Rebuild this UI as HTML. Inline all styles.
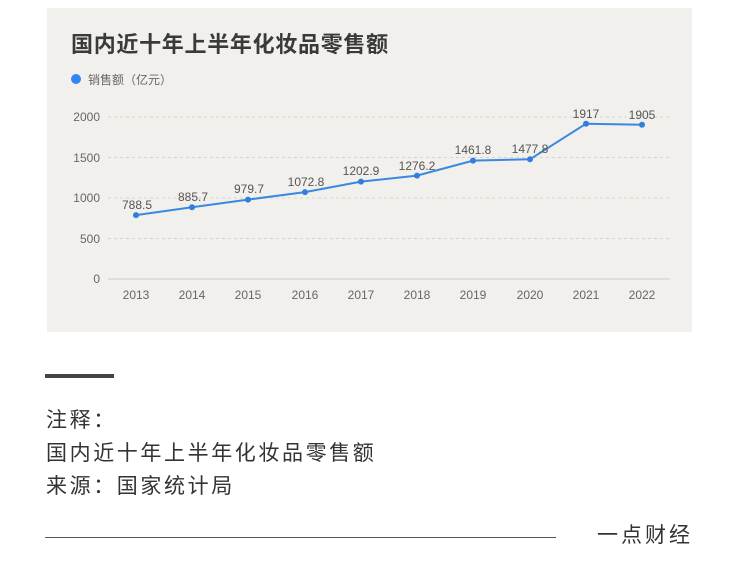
<!DOCTYPE html>
<html><head><meta charset="utf-8"><style>
body{margin:0;width:750px;height:565px;background:#fff;font-family:"Liberation Sans","Noto Sans CJK SC",sans-serif;position:relative;overflow:hidden}
.card{position:absolute;left:47px;top:8px;width:645px;height:324px;background:#f2f0ec}
.t{position:absolute;color:#333}
</style></head><body>
<div class="card"></div>
<svg style="position:absolute;left:0;top:0" width="750" height="565">
<text x="71" y="52" font-size="22" font-weight="bold" fill="#3a3a3a" letter-spacing="0.7" font-family="Liberation Sans,Noto Sans CJK SC,sans-serif">国内近十年上半年化妆品零售额</text>
<circle cx="76" cy="79" r="5" fill="#2f86f0"/>
<text x="88" y="84" font-size="12" fill="#666" font-family="Liberation Sans,Noto Sans CJK SC,sans-serif">销售额（亿元）</text>
<g stroke="#d6d3ce" stroke-dasharray="3,3" stroke-width="1">
<line x1="108" x2="670" y1="117" y2="117"/><line x1="108" x2="670" y1="157.5" y2="157.5"/><line x1="108" x2="670" y1="198" y2="198"/><line x1="108" x2="670" y1="238.5" y2="238.5"/>
</g>
<line x1="108" x2="670" y1="279" y2="279" stroke="#ccc"/>
<g font-size="12" fill="#666" text-anchor="end" font-family="Liberation Sans,sans-serif">
<text x="100" y="121">2000</text><text x="100" y="162">1500</text><text x="100" y="202">1000</text><text x="100" y="243">500</text><text x="100" y="283">0</text>
</g>
<g font-size="12" fill="#666" text-anchor="middle" font-family="Liberation Sans,sans-serif">
<text x="136" y="299">2013</text><text x="192" y="299">2014</text><text x="248" y="299">2015</text><text x="305" y="299">2016</text><text x="361" y="299">2017</text><text x="417" y="299">2018</text><text x="473" y="299">2019</text><text x="530" y="299">2020</text><text x="586" y="299">2021</text><text x="642" y="299">2022</text>
</g>
<polyline fill="none" stroke="#3a88e0" stroke-width="2" points="136,215.1 192,207.3 248,199.6 305,192.1 361,181.6 417,175.6 473,160.6 530,159.3 586,123.7 642,124.7"/>
<g fill="#2f7fe0">
<circle cx="136" cy="215.1" r="3"/><circle cx="192" cy="207.3" r="3"/><circle cx="248" cy="199.6" r="3"/><circle cx="305" cy="192.1" r="3"/><circle cx="361" cy="181.6" r="3"/><circle cx="417" cy="175.6" r="3"/><circle cx="473" cy="160.6" r="3"/><circle cx="530" cy="159.3" r="3"/><circle cx="586" cy="123.7" r="3"/><circle cx="642" cy="124.7" r="3"/>
</g>
<g font-size="12" fill="#555" text-anchor="middle" font-family="Liberation Sans,sans-serif">
<text x="137" y="209">788.5</text><text x="193" y="201">885.7</text><text x="249" y="193">979.7</text><text x="306" y="186">1072.8</text><text x="361" y="175">1202.9</text><text x="417" y="170">1276.2</text><text x="473" y="154">1461.8</text><text x="530" y="153">1477.8</text><text x="586" y="118">1917</text><text x="642" y="119">1905</text>
</g>
<rect x="45" y="374" width="69" height="4" fill="#444"/>
<line x1="45" x2="556" y1="537.5" y2="537.5" stroke="#555" stroke-width="1"/>
</svg>
<div class="t" style="left:46px;top:404px;font-size:21px;line-height:33px;letter-spacing:2.6px">注释：<br>国内近十年上半年化妆品零售额<br>来源：国家统计局</div>
<div class="t" style="left:597px;top:519px;font-size:21px;letter-spacing:3px">一点财经</div>
</body></html>
